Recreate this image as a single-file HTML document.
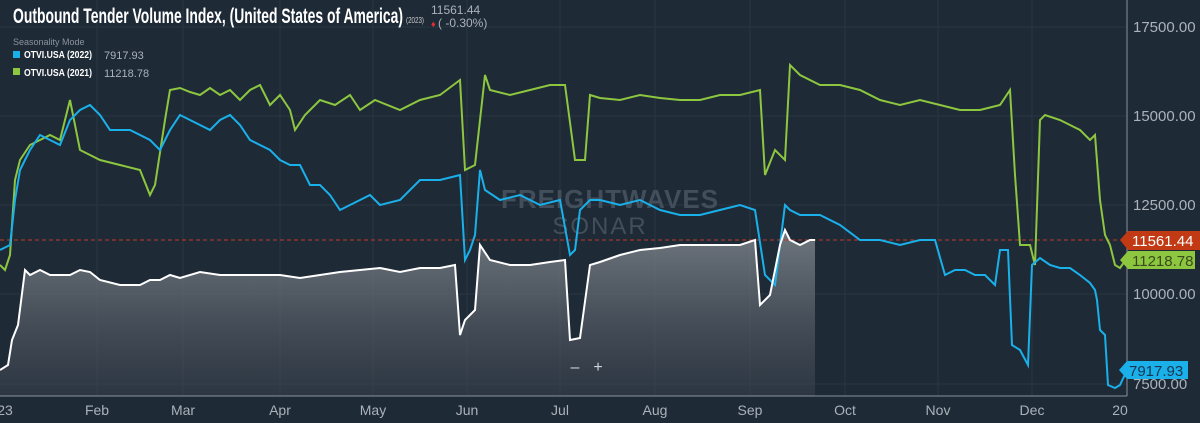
<!DOCTYPE html>
<html><head><meta charset="utf-8"><style>
html,body{margin:0;padding:0;background:#1f2a37;}
svg{display:block;font-family:"Liberation Sans",sans-serif;}
</style></head><body>
<svg width="1200" height="423" viewBox="0 0 1200 423">
<defs>
<linearGradient id="g" x1="0" y1="0" x2="0" y2="1">
<stop offset="0" stop-color="#8a9096" stop-opacity="0.75"/>
<stop offset="1" stop-color="#3a424c" stop-opacity="0.5"/>
</linearGradient>
</defs>
<rect width="1200" height="423" fill="#1f2a37"/>
<g stroke="#2a3542" stroke-width="1">
<line x1="0" y1="27" x2="1127" y2="27"/><line x1="0" y1="116" x2="1127" y2="116"/>
<line x1="0" y1="205" x2="1127" y2="205"/><line x1="0" y1="294" x2="1127" y2="294"/>
<line x1="0" y1="384" x2="1127" y2="384"/>
<line x1="97" y1="0" x2="97" y2="396"/><line x1="183" y1="0" x2="183" y2="396"/><line x1="280" y1="0" x2="280" y2="396"/><line x1="373" y1="0" x2="373" y2="396"/><line x1="467" y1="0" x2="467" y2="396"/><line x1="560" y1="0" x2="560" y2="396"/><line x1="655" y1="0" x2="655" y2="396"/><line x1="750" y1="0" x2="750" y2="396"/><line x1="845" y1="0" x2="845" y2="396"/><line x1="938" y1="0" x2="938" y2="396"/><line x1="1032" y1="0" x2="1032" y2="396"/>
</g>
<text x="610" y="208" font-size="26" font-weight="bold" fill="#434e5b" text-anchor="middle" letter-spacing="1">FREIGHTWAVES</text>
<text x="600" y="234" font-size="24" fill="#434e5b" text-anchor="middle" letter-spacing="2">SONAR</text>
<polygon fill="url(#g)" points="0,396 0,370 8,365 12,340 18,325 25,270 30,275 40,270 50,275 60,275 70,275 80,270 90,272 100,280 120,285 140,285 150,280 160,280 170,275 180,278 200,272 220,275 240,275 260,275 280,275 300,278 320,275 340,272 360,270 380,268 400,272 420,268 440,268 455,265 460,335 465,320 475,310 480,245 490,260 510,265 530,265 550,262 565,260 570,340 580,338 590,265 600,262 620,255 640,250 660,248 680,245 700,245 720,245 740,245 755,240 760,305 770,295 780,245 785,230 790,240 800,245 810,240 815,240 815,396"/>
<line x1="0" y1="240" x2="1127" y2="240" stroke="#c0392b" stroke-width="1" stroke-dasharray="4,3"/>
<polyline fill="none" stroke="#8dc63f" stroke-width="2" points="0,265 5,270 10,255 15,180 20,160 30,145 40,140 50,135 60,140 70,100 80,150 90,155 100,160 120,165 140,170 150,195 155,185 165,120 170,90 180,88 190,92 200,95 210,88 220,95 230,90 240,100 250,90 260,85 265,95 270,105 280,95 290,110 295,130 305,115 320,100 335,105 350,95 360,110 375,100 400,110 420,100 440,95 460,80 465,170 475,165 485,75 490,90 510,95 530,90 550,85 565,85 575,160 585,160 590,95 600,98 620,100 640,95 660,98 680,100 700,100 720,95 740,95 760,90 765,175 775,150 785,160 790,65 800,75 820,85 840,85 860,90 880,100 900,105 920,100 940,105 960,110 980,110 1000,105 1010,90 1015,175 1020,245 1030,245 1035,265 1040,120 1045,115 1060,120 1070,125 1080,130 1090,140 1095,135 1100,200 1105,235 1110,245 1115,265 1120,268 1127,258"/>
<polyline fill="none" stroke="#1ab0ea" stroke-width="2" points="0,250 10,245 15,200 20,170 30,150 40,135 50,140 60,145 70,120 80,110 90,105 100,115 110,130 130,130 150,140 160,150 170,130 180,115 190,120 200,125 210,130 220,120 230,115 240,125 250,140 260,145 270,150 280,160 290,165 300,165 310,185 320,185 330,195 340,210 350,205 360,200 370,195 380,205 400,200 420,180 440,180 460,175 465,260 470,250 475,235 480,170 485,190 500,200 520,195 540,205 560,200 570,255 575,250 580,210 590,200 600,200 620,205 640,200 660,210 680,215 700,215 720,210 740,205 755,210 765,275 775,285 785,205 790,210 800,215 820,215 840,225 860,240 880,240 900,245 920,240 935,240 945,275 955,270 965,270 975,275 985,275 995,285 1000,250 1008,250 1012,345 1020,350 1028,365 1032,265 1040,258 1050,265 1060,268 1070,268 1080,275 1090,283 1095,290 1097,300 1100,330 1105,335 1108,385 1115,388 1120,385 1127,370"/>
<polyline fill="none" stroke="#ffffff" stroke-width="2" points="0,370 8,365 12,340 18,325 25,270 30,275 40,270 50,275 60,275 70,275 80,270 90,272 100,280 120,285 140,285 150,280 160,280 170,275 180,278 200,272 220,275 240,275 260,275 280,275 300,278 320,275 340,272 360,270 380,268 400,272 420,268 440,268 455,265 460,335 465,320 475,310 480,245 490,260 510,265 530,265 550,262 565,260 570,340 580,338 590,265 600,262 620,255 640,250 660,248 680,245 700,245 720,245 740,245 755,240 760,305 770,295 780,245 785,230 790,240 800,245 810,240 815,240"/>
<line x1="1127" y1="0" x2="1127" y2="396" stroke="#8a939c"/>
<line x1="0" y1="396" x2="1127" y2="396" stroke="#8a939c"/>
<g fill="#aab2ba" font-size="15">
<text x="1133" y="32">17500.00</text><text x="1133" y="121">15000.00</text><text x="1133" y="210">12500.00</text><text x="1133" y="299">10000.00</text><text x="1133" y="389">7500.00</text>
</g>
<g fill="#aab2ba" font-size="14" text-anchor="middle">
<text x="5" y="415">23</text><text x="97" y="415">Feb</text><text x="183" y="415">Mar</text><text x="280" y="415">Apr</text><text x="373" y="415">May</text><text x="467" y="415">Jun</text><text x="560" y="415">Jul</text><text x="655" y="415">Aug</text><text x="750" y="415">Sep</text><text x="845" y="415">Oct</text><text x="938" y="415">Nov</text><text x="1032" y="415">Dec</text><text x="1120" y="415">20</text>
</g>
<polygon points="1120,240 1128,231 1200,231 1200,250 1128,250" fill="#c23a14"/>
<text x="1132" y="246" fill="#fff" font-size="15">11561.44</text>
<polygon points="1120,260 1128,251 1195,251 1195,269 1128,269" fill="#8dc63f"/>
<text x="1132" y="266" fill="#3a4a20" font-size="15">11218.78</text>
<polygon points="1119,370 1127,361 1188,361 1188,379 1127,379" fill="#1ab0ea"/>
<text x="1129" y="376" fill="#1a3550" font-size="15">7917.93</text>
<text x="575" y="372" fill="#cfd5da" font-size="16" text-anchor="middle">–</text>
<text x="598" y="372" fill="#cfd5da" font-size="16" text-anchor="middle">+</text>
<text x="13" y="23" fill="#fff" font-size="21" font-weight="bold" textLength="390" lengthAdjust="spacingAndGlyphs">Outbound Tender Volume Index, (United States of America)</text>
<text x="406" y="23" fill="#ccc" font-size="8" textLength="18" lengthAdjust="spacingAndGlyphs">(2023)</text>
<text x="431" y="14" fill="#aab2ba" font-size="12">11561.44</text>
<text x="431" y="27" fill="#e03030" font-size="9">♦</text>
<text x="438" y="27" fill="#aab2ba" font-size="12">( -0.30%)</text>
<text x="13" y="45" fill="#8a939c" font-size="9">Seasonality Mode</text>
<rect x="13" y="51" width="7" height="7" fill="#1ab0ea"/>
<text x="24" y="58" fill="#fff" font-size="10" font-weight="bold" textLength="68" lengthAdjust="spacingAndGlyphs">OTVI.USA (2022)</text>
<text x="104" y="59" fill="#aab2ba" font-size="11">7917.93</text>
<rect x="13" y="68" width="7" height="7" fill="#8dc63f"/>
<text x="24" y="76" fill="#fff" font-size="10" font-weight="bold" textLength="68" lengthAdjust="spacingAndGlyphs">OTVI.USA (2021)</text>
<text x="104" y="77" fill="#aab2ba" font-size="11">11218.78</text>
</svg>
</body></html>
